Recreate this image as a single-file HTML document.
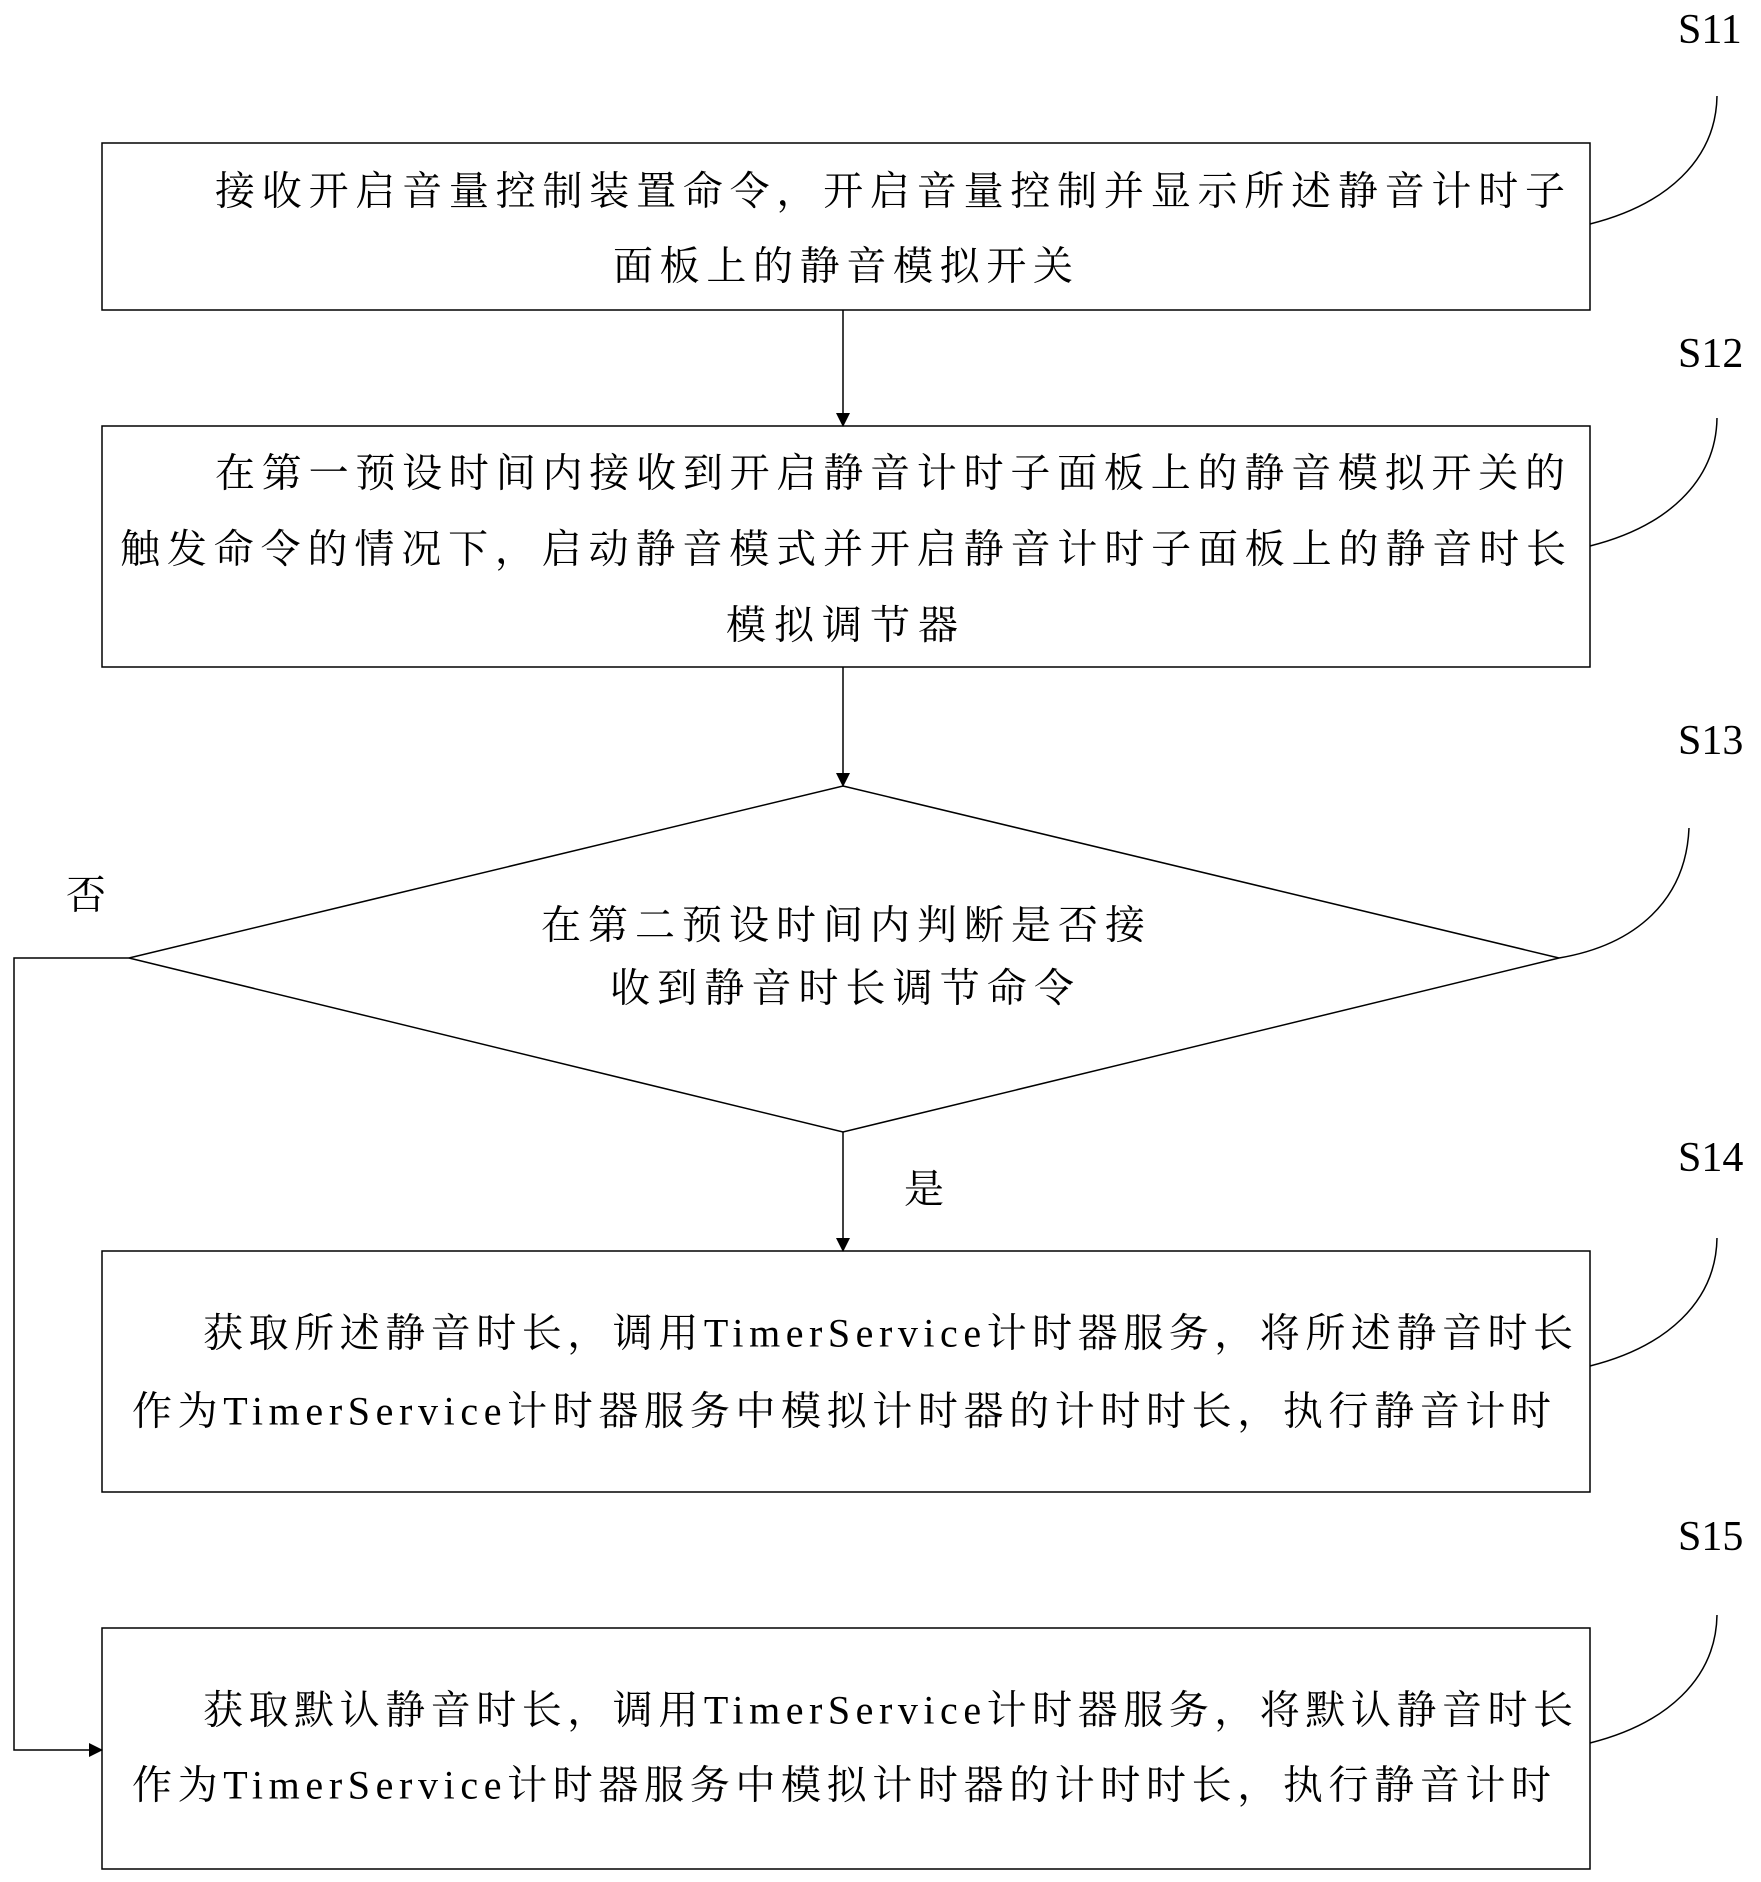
<!DOCTYPE html>
<html><head><meta charset="utf-8"><style>html,body{margin:0;padding:0;background:#fff}</style></head>
<body>
<svg width="1761" height="1882" xmlns="http://www.w3.org/2000/svg" style="display:block">
<defs><marker id="a" markerWidth="14" markerHeight="18" refX="13" refY="9" orient="auto" markerUnits="userSpaceOnUse"><path d="M0,2 L14,9 L0,16 Z" fill="#000"/></marker></defs>
<g fill="none" stroke="#000" stroke-width="1.5">
<rect x="102" y="143" width="1488" height="167"/>
<rect x="102" y="426" width="1488" height="241"/>
<polygon points="843,786 1559,958 843,1132 129,958"/>
<rect x="102" y="1251" width="1488" height="241"/>
<rect x="102" y="1628" width="1488" height="241"/>
<line x1="843" y1="310" x2="843" y2="426" marker-end="url(#a)"/>
<line x1="843" y1="667" x2="843" y2="786" marker-end="url(#a)"/>
<line x1="843" y1="1132" x2="843" y2="1251" marker-end="url(#a)"/>
<polyline points="129,958 14,958 14,1750 102,1750" marker-end="url(#a)"/>
<path d="M1717,96 C1716,160 1666,205 1590,224"/>
<path d="M1717,418 C1716,482 1666,527 1590,546"/>
<path d="M1689,828 C1686,900 1636,945 1559,958"/>
<path d="M1717,1238 C1716,1302 1666,1347 1590,1366"/>
<path d="M1717,1615 C1716,1679 1666,1724 1590,1743"/>
</g>
<g font-family="Liberation Serif, Noto Serif CJK SC, serif" font-size="40" fill="#000" dominant-baseline="central">
<text x="1678" y="30" font-size="42">S11</text>
<text x="1678" y="354" font-size="42">S12</text>
<text x="1678" y="741" font-size="42">S13</text>
<text x="1678" y="1158" font-size="42">S14</text>
<text x="1678" y="1537" font-size="42">S15</text>
<text x="66" y="895">否</text>
<text x="904" y="1189">是</text>
<text x="215" y="191" textLength="1350" lengthAdjust="spacing">接收开启音量控制装置命令，开启音量控制并显示所述静音计时子</text>
<text x="613" y="266" textLength="460" lengthAdjust="spacing">面板上的静音模拟开关</text>
<text x="215" y="473" textLength="1350" lengthAdjust="spacing">在第一预设时间内接收到开启静音计时子面板上的静音模拟开关的</text>
<text x="120" y="549" textLength="1446" lengthAdjust="spacing">触发命令的情况下，启动静音模式并开启静音计时子面板上的静音时长</text>
<text x="726" y="625" textLength="232" lengthAdjust="spacing">模拟调节器</text>
<text x="541" y="925" textLength="604" lengthAdjust="spacing">在第二预设时间内判断是否接</text>
<text x="610" y="988" textLength="464" lengthAdjust="spacing">收到静音时长调节命令</text>
<text x="203" y="1333" textLength="1370" lengthAdjust="spacing">获取所述静音时长，调用TimerService计时器服务，将所述静音时长</text>
<text x="132" y="1411" textLength="1419" lengthAdjust="spacing">作为TimerService计时器服务中模拟计时器的计时时长，执行静音计时</text>
<text x="203" y="1710" textLength="1370" lengthAdjust="spacing">获取默认静音时长，调用TimerService计时器服务，将默认静音时长</text>
<text x="132" y="1785" textLength="1419" lengthAdjust="spacing">作为TimerService计时器服务中模拟计时器的计时时长，执行静音计时</text>
</g>
</svg>
</body></html>
